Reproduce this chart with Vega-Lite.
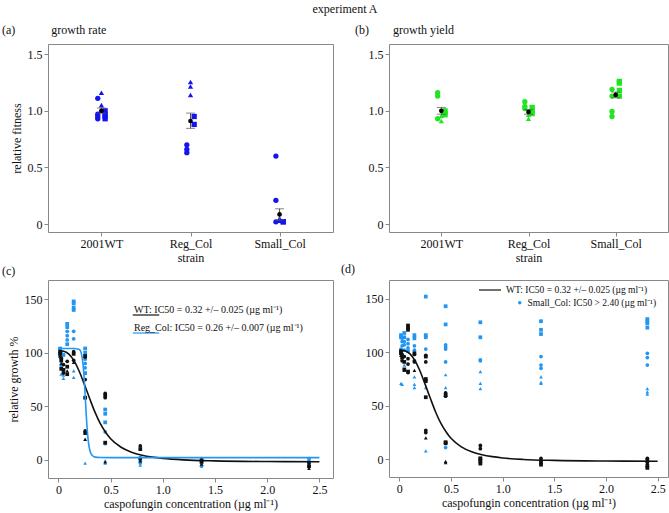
{
  "$schema": "https://vega.github.io/schema/vega-lite/v6.json",
  "padding": {"left": 1, "top": 2, "right": 2, "bottom": 2},
  "title": {"text": "experiment A", "anchor": "middle", "dx": 10, "offset": 8, "fontSize": 12},
  "columns": 2,
  "spacing": {"row": 48, "column": 56},
  "bounds": "flush",
  "align": "each",
  "config": {
    "font": "Liberation Serif",
    "view": {"stroke": "#888"},
    "axis": {"labelFont": "Liberation Serif", "titleFont": "Liberation Serif", "labelFontSize": 12, "titleFontSize": 12, "titleFontWeight": "normal", "grid": false, "domain": false, "tickColor": "#888", "tickSize": 4, "labelColor": "#111", "titleColor": "#111", "labelPadding": 2},
    "title": {"font": "Liberation Serif", "fontWeight": "normal", "fontSize": 12, "color": "#111"},
    "legend": {"labelFont": "Liberation Serif", "labelColor": "#111"}
  },
  "datasets": {
    "rate": [
      {"strain": "2001WT", "rep": "c", "fitness": 1.11},
      {"strain": "2001WT", "rep": "c", "fitness": 0.97},
      {"strain": "2001WT", "rep": "c", "fitness": 0.95},
      {"strain": "2001WT", "rep": "c", "fitness": 0.93},
      {"strain": "2001WT", "rep": "t", "fitness": 1.16},
      {"strain": "2001WT", "rep": "t", "fitness": 1.05},
      {"strain": "2001WT", "rep": "t", "fitness": 1.01},
      {"strain": "2001WT", "rep": "s", "fitness": 1.0},
      {"strain": "2001WT", "rep": "s", "fitness": 0.97},
      {"strain": "2001WT", "rep": "s", "fitness": 0.95},
      {"strain": "2001WT", "rep": "s", "fitness": 0.93},
      {"strain": "Reg_Col", "rep": "c", "fitness": 0.70},
      {"strain": "Reg_Col", "rep": "c", "fitness": 0.66},
      {"strain": "Reg_Col", "rep": "c", "fitness": 0.63},
      {"strain": "Reg_Col", "rep": "t", "fitness": 1.255},
      {"strain": "Reg_Col", "rep": "t", "fitness": 1.215},
      {"strain": "Reg_Col", "rep": "t", "fitness": 1.14},
      {"strain": "Reg_Col", "rep": "s", "fitness": 0.95},
      {"strain": "Reg_Col", "rep": "s", "fitness": 0.88},
      {"strain": "Small_Col", "rep": "c", "fitness": 0.60},
      {"strain": "Small_Col", "rep": "c", "fitness": 0.21},
      {"strain": "Small_Col", "rep": "c", "fitness": 0.02},
      {"strain": "Small_Col", "rep": "t", "fitness": 0.05},
      {"strain": "Small_Col", "rep": "t", "fitness": 0.03},
      {"strain": "Small_Col", "rep": "s", "fitness": 0.02},
      {"strain": "Small_Col", "rep": "s", "fitness": 0.02}
    ],
    "rateMean": [
      {"strain": "2001WT", "fitness": 1.0, "lo": 0.98, "hi": 1.025},
      {"strain": "Reg_Col", "fitness": 0.91, "lo": 0.845, "hi": 0.98},
      {"strain": "Small_Col", "fitness": 0.085, "lo": 0.035, "hi": 0.135}
    ],
    "yield": [
      {"strain": "2001WT", "rep": "c", "fitness": 1.16},
      {"strain": "2001WT", "rep": "c", "fitness": 1.13},
      {"strain": "2001WT", "rep": "c", "fitness": 0.93},
      {"strain": "2001WT", "rep": "t", "fitness": 0.955},
      {"strain": "2001WT", "rep": "t", "fitness": 0.91},
      {"strain": "2001WT", "rep": "s", "fitness": 1.0},
      {"strain": "2001WT", "rep": "s", "fitness": 0.98},
      {"strain": "2001WT", "rep": "s", "fitness": 0.965},
      {"strain": "Reg_Col", "rep": "c", "fitness": 1.08},
      {"strain": "Reg_Col", "rep": "c", "fitness": 1.04},
      {"strain": "Reg_Col", "rep": "c", "fitness": 1.02},
      {"strain": "Reg_Col", "rep": "t", "fitness": 0.965},
      {"strain": "Reg_Col", "rep": "t", "fitness": 0.93},
      {"strain": "Reg_Col", "rep": "s", "fitness": 1.03},
      {"strain": "Reg_Col", "rep": "s", "fitness": 1.0},
      {"strain": "Reg_Col", "rep": "s", "fitness": 0.975},
      {"strain": "Small_Col", "rep": "c", "fitness": 1.19},
      {"strain": "Small_Col", "rep": "c", "fitness": 1.13},
      {"strain": "Small_Col", "rep": "c", "fitness": 0.995},
      {"strain": "Small_Col", "rep": "c", "fitness": 0.95},
      {"strain": "Small_Col", "rep": "t", "fitness": 1.15},
      {"strain": "Small_Col", "rep": "s", "fitness": 1.26},
      {"strain": "Small_Col", "rep": "s", "fitness": 1.245},
      {"strain": "Small_Col", "rep": "s", "fitness": 1.18},
      {"strain": "Small_Col", "rep": "s", "fitness": 1.13}
    ],
    "yieldMean": [
      {"strain": "2001WT", "fitness": 1.0, "lo": 0.97, "hi": 1.03},
      {"strain": "Reg_Col", "fitness": 0.99, "lo": 0.97, "hi": 1.01},
      {"strain": "Small_Col", "fitness": 1.14, "lo": 1.115, "hi": 1.165}
    ],
    "drc": [
      {"strain": "Reg_Col", "rep": "c", "conc": 0.016, "growth": 103},
      {"strain": "Reg_Col", "rep": "s", "conc": 0.016, "growth": 104},
      {"strain": "Reg_Col", "rep": "t", "conc": 0.016, "growth": 101},
      {"strain": "Reg_Col", "rep": "c", "conc": 0.016, "growth": 99},
      {"strain": "Reg_Col", "rep": "s", "conc": 0.016, "growth": 97},
      {"strain": "Reg_Col", "rep": "c", "conc": 0.027, "growth": 100},
      {"strain": "Reg_Col", "rep": "s", "conc": 0.027, "growth": 96},
      {"strain": "Reg_Col", "rep": "t", "conc": 0.027, "growth": 92},
      {"strain": "Reg_Col", "rep": "c", "conc": 0.027, "growth": 88},
      {"strain": "Reg_Col", "rep": "t", "conc": 0.027, "growth": 80},
      {"strain": "Reg_Col", "rep": "c", "conc": 0.048, "growth": 84},
      {"strain": "Reg_Col", "rep": "t", "conc": 0.048, "growth": 79},
      {"strain": "Reg_Col", "rep": "t", "conc": 0.048, "growth": 76},
      {"strain": "Reg_Col", "rep": "s", "conc": 0.048, "growth": 98},
      {"strain": "Reg_Col", "rep": "s", "conc": 0.084, "growth": 127},
      {"strain": "Reg_Col", "rep": "s", "conc": 0.084, "growth": 124},
      {"strain": "Reg_Col", "rep": "c", "conc": 0.084, "growth": 120},
      {"strain": "Reg_Col", "rep": "c", "conc": 0.084, "growth": 116},
      {"strain": "Reg_Col", "rep": "c", "conc": 0.084, "growth": 112},
      {"strain": "Reg_Col", "rep": "s", "conc": 0.084, "growth": 108},
      {"strain": "Reg_Col", "rep": "s", "conc": 0.146, "growth": 148},
      {"strain": "Reg_Col", "rep": "s", "conc": 0.146, "growth": 146},
      {"strain": "Reg_Col", "rep": "s", "conc": 0.146, "growth": 142},
      {"strain": "Reg_Col", "rep": "s", "conc": 0.146, "growth": 140},
      {"strain": "Reg_Col", "rep": "c", "conc": 0.146, "growth": 120},
      {"strain": "Reg_Col", "rep": "c", "conc": 0.146, "growth": 113},
      {"strain": "Reg_Col", "rep": "t", "conc": 0.146, "growth": 83},
      {"strain": "Reg_Col", "rep": "t", "conc": 0.146, "growth": 77},
      {"strain": "Reg_Col", "rep": "s", "conc": 0.256, "growth": 104},
      {"strain": "Reg_Col", "rep": "s", "conc": 0.256, "growth": 100},
      {"strain": "Reg_Col", "rep": "c", "conc": 0.256, "growth": 94},
      {"strain": "Reg_Col", "rep": "c", "conc": 0.256, "growth": 90},
      {"strain": "Reg_Col", "rep": "c", "conc": 0.256, "growth": 86},
      {"strain": "Reg_Col", "rep": "s", "conc": 0.256, "growth": 81},
      {"strain": "Reg_Col", "rep": "t", "conc": 0.256, "growth": 19},
      {"strain": "Reg_Col", "rep": "t", "conc": 0.256, "growth": -3},
      {"strain": "Reg_Col", "rep": "s", "conc": 0.448, "growth": 47},
      {"strain": "Reg_Col", "rep": "s", "conc": 0.448, "growth": 43},
      {"strain": "Reg_Col", "rep": "s", "conc": 0.448, "growth": 35},
      {"strain": "Reg_Col", "rep": "c", "conc": 0.448, "growth": 26},
      {"strain": "Reg_Col", "rep": "c", "conc": 0.448, "growth": 15},
      {"strain": "Reg_Col", "rep": "t", "conc": 0.448, "growth": -1},
      {"strain": "Reg_Col", "rep": "t", "conc": 0.448, "growth": -3},
      {"strain": "Reg_Col", "rep": "c", "conc": 0.784, "growth": 2},
      {"strain": "Reg_Col", "rep": "s", "conc": 0.784, "growth": 0},
      {"strain": "Reg_Col", "rep": "c", "conc": 0.784, "growth": -3},
      {"strain": "Reg_Col", "rep": "t", "conc": 0.784, "growth": -5},
      {"strain": "Reg_Col", "rep": "c", "conc": 1.371, "growth": 1},
      {"strain": "Reg_Col", "rep": "s", "conc": 1.371, "growth": -1},
      {"strain": "Reg_Col", "rep": "t", "conc": 1.371, "growth": -4},
      {"strain": "Reg_Col", "rep": "c", "conc": 1.371, "growth": -6},
      {"strain": "Reg_Col", "rep": "c", "conc": 2.4, "growth": 1},
      {"strain": "Reg_Col", "rep": "s", "conc": 2.4, "growth": -2},
      {"strain": "Reg_Col", "rep": "t", "conc": 2.4, "growth": -4},
      {"strain": "Reg_Col", "rep": "c", "conc": 2.4, "growth": -6},
      {"strain": "WT", "rep": "c", "conc": 0.016, "growth": 101},
      {"strain": "WT", "rep": "s", "conc": 0.016, "growth": 99},
      {"strain": "WT", "rep": "t", "conc": 0.016, "growth": 97},
      {"strain": "WT", "rep": "c", "conc": 0.027, "growth": 95},
      {"strain": "WT", "rep": "s", "conc": 0.027, "growth": 93},
      {"strain": "WT", "rep": "t", "conc": 0.027, "growth": 90},
      {"strain": "WT", "rep": "s", "conc": 0.027, "growth": 85},
      {"strain": "WT", "rep": "c", "conc": 0.048, "growth": 89},
      {"strain": "WT", "rep": "s", "conc": 0.048, "growth": 84},
      {"strain": "WT", "rep": "t", "conc": 0.048, "growth": 82},
      {"strain": "WT", "rep": "c", "conc": 0.048, "growth": 81},
      {"strain": "WT", "rep": "c", "conc": 0.084, "growth": 92},
      {"strain": "WT", "rep": "s", "conc": 0.084, "growth": 87},
      {"strain": "WT", "rep": "t", "conc": 0.084, "growth": 83},
      {"strain": "WT", "rep": "s", "conc": 0.084, "growth": 80},
      {"strain": "WT", "rep": "c", "conc": 0.146, "growth": 101},
      {"strain": "WT", "rep": "s", "conc": 0.146, "growth": 99},
      {"strain": "WT", "rep": "c", "conc": 0.146, "growth": 93},
      {"strain": "WT", "rep": "t", "conc": 0.146, "growth": 91},
      {"strain": "WT", "rep": "s", "conc": 0.256, "growth": 97},
      {"strain": "WT", "rep": "c", "conc": 0.256, "growth": 96},
      {"strain": "WT", "rep": "c", "conc": 0.256, "growth": 75},
      {"strain": "WT", "rep": "s", "conc": 0.256, "growth": 58},
      {"strain": "WT", "rep": "c", "conc": 0.256, "growth": 27},
      {"strain": "WT", "rep": "s", "conc": 0.256, "growth": 25},
      {"strain": "WT", "rep": "t", "conc": 0.256, "growth": 19},
      {"strain": "WT", "rep": "c", "conc": 0.448, "growth": 62},
      {"strain": "WT", "rep": "s", "conc": 0.448, "growth": 60},
      {"strain": "WT", "rep": "c", "conc": 0.448, "growth": 58},
      {"strain": "WT", "rep": "s", "conc": 0.448, "growth": 16},
      {"strain": "WT", "rep": "t", "conc": 0.448, "growth": -2},
      {"strain": "WT", "rep": "c", "conc": 0.784, "growth": 13},
      {"strain": "WT", "rep": "s", "conc": 0.784, "growth": 10},
      {"strain": "WT", "rep": "c", "conc": 0.784, "growth": 1},
      {"strain": "WT", "rep": "t", "conc": 0.784, "growth": -1},
      {"strain": "WT", "rep": "c", "conc": 1.371, "growth": 0},
      {"strain": "WT", "rep": "s", "conc": 1.371, "growth": -2},
      {"strain": "WT", "rep": "t", "conc": 1.371, "growth": -4},
      {"strain": "WT", "rep": "c", "conc": 2.4, "growth": -3},
      {"strain": "WT", "rep": "s", "conc": 2.4, "growth": -6},
      {"strain": "WT", "rep": "t", "conc": 2.4, "growth": -8}
    ],
    "drd": [
      {"strain": "Small_Col", "rep": "s", "conc": 0.016, "growth": 116},
      {"strain": "Small_Col", "rep": "s", "conc": 0.016, "growth": 114},
      {"strain": "Small_Col", "rep": "c", "conc": 0.016, "growth": 103},
      {"strain": "Small_Col", "rep": "c", "conc": 0.016, "growth": 101},
      {"strain": "Small_Col", "rep": "c", "conc": 0.016, "growth": 99},
      {"strain": "Small_Col", "rep": "t", "conc": 0.016, "growth": 71},
      {"strain": "Small_Col", "rep": "c", "conc": 0.027, "growth": 113},
      {"strain": "Small_Col", "rep": "c", "conc": 0.027, "growth": 110},
      {"strain": "Small_Col", "rep": "c", "conc": 0.027, "growth": 106},
      {"strain": "Small_Col", "rep": "t", "conc": 0.027, "growth": 70},
      {"strain": "Small_Col", "rep": "s", "conc": 0.048, "growth": 118},
      {"strain": "Small_Col", "rep": "s", "conc": 0.048, "growth": 114},
      {"strain": "Small_Col", "rep": "c", "conc": 0.048, "growth": 110},
      {"strain": "Small_Col", "rep": "c", "conc": 0.048, "growth": 107},
      {"strain": "Small_Col", "rep": "c", "conc": 0.048, "growth": 102},
      {"strain": "Small_Col", "rep": "t", "conc": 0.048, "growth": 88},
      {"strain": "Small_Col", "rep": "c", "conc": 0.084, "growth": 112},
      {"strain": "Small_Col", "rep": "c", "conc": 0.084, "growth": 108},
      {"strain": "Small_Col", "rep": "c", "conc": 0.084, "growth": 104},
      {"strain": "Small_Col", "rep": "s", "conc": 0.084, "growth": 101},
      {"strain": "Small_Col", "rep": "s", "conc": 0.146, "growth": 116},
      {"strain": "Small_Col", "rep": "s", "conc": 0.146, "growth": 113},
      {"strain": "Small_Col", "rep": "c", "conc": 0.146, "growth": 106},
      {"strain": "Small_Col", "rep": "c", "conc": 0.146, "growth": 102},
      {"strain": "Small_Col", "rep": "t", "conc": 0.146, "growth": 77},
      {"strain": "Small_Col", "rep": "t", "conc": 0.146, "growth": 70},
      {"strain": "Small_Col", "rep": "t", "conc": 0.146, "growth": 67},
      {"strain": "Small_Col", "rep": "s", "conc": 0.256, "growth": 152},
      {"strain": "Small_Col", "rep": "s", "conc": 0.256, "growth": 116},
      {"strain": "Small_Col", "rep": "s", "conc": 0.256, "growth": 114},
      {"strain": "Small_Col", "rep": "c", "conc": 0.256, "growth": 103},
      {"strain": "Small_Col", "rep": "t", "conc": 0.256, "growth": 75},
      {"strain": "Small_Col", "rep": "t", "conc": 0.256, "growth": 67},
      {"strain": "Small_Col", "rep": "t", "conc": 0.256, "growth": 8},
      {"strain": "Small_Col", "rep": "s", "conc": 0.448, "growth": 143},
      {"strain": "Small_Col", "rep": "s", "conc": 0.448, "growth": 126},
      {"strain": "Small_Col", "rep": "c", "conc": 0.448, "growth": 107},
      {"strain": "Small_Col", "rep": "c", "conc": 0.448, "growth": 105},
      {"strain": "Small_Col", "rep": "c", "conc": 0.448, "growth": 103},
      {"strain": "Small_Col", "rep": "c", "conc": 0.448, "growth": 91},
      {"strain": "Small_Col", "rep": "t", "conc": 0.448, "growth": 79},
      {"strain": "Small_Col", "rep": "t", "conc": 0.448, "growth": 67},
      {"strain": "Small_Col", "rep": "c", "conc": 0.448, "growth": 15},
      {"strain": "Small_Col", "rep": "c", "conc": 0.448, "growth": 11},
      {"strain": "Small_Col", "rep": "s", "conc": 0.784, "growth": 128},
      {"strain": "Small_Col", "rep": "s", "conc": 0.784, "growth": 114},
      {"strain": "Small_Col", "rep": "c", "conc": 0.784, "growth": 93},
      {"strain": "Small_Col", "rep": "c", "conc": 0.784, "growth": 92},
      {"strain": "Small_Col", "rep": "t", "conc": 0.784, "growth": 82},
      {"strain": "Small_Col", "rep": "t", "conc": 0.784, "growth": 71},
      {"strain": "Small_Col", "rep": "t", "conc": 0.784, "growth": 66},
      {"strain": "Small_Col", "rep": "s", "conc": 1.371, "growth": 129},
      {"strain": "Small_Col", "rep": "s", "conc": 1.371, "growth": 121},
      {"strain": "Small_Col", "rep": "s", "conc": 1.371, "growth": 117},
      {"strain": "Small_Col", "rep": "c", "conc": 1.371, "growth": 96},
      {"strain": "Small_Col", "rep": "c", "conc": 1.371, "growth": 88},
      {"strain": "Small_Col", "rep": "c", "conc": 1.371, "growth": 85},
      {"strain": "Small_Col", "rep": "t", "conc": 1.371, "growth": 77},
      {"strain": "Small_Col", "rep": "t", "conc": 1.371, "growth": 72},
      {"strain": "Small_Col", "rep": "t", "conc": 1.371, "growth": 71},
      {"strain": "Small_Col", "rep": "s", "conc": 2.4, "growth": 131},
      {"strain": "Small_Col", "rep": "s", "conc": 2.4, "growth": 129},
      {"strain": "Small_Col", "rep": "s", "conc": 2.4, "growth": 127},
      {"strain": "Small_Col", "rep": "s", "conc": 2.4, "growth": 123},
      {"strain": "Small_Col", "rep": "c", "conc": 2.4, "growth": 99},
      {"strain": "Small_Col", "rep": "c", "conc": 2.4, "growth": 95},
      {"strain": "Small_Col", "rep": "c", "conc": 2.4, "growth": 88},
      {"strain": "Small_Col", "rep": "t", "conc": 2.4, "growth": 66},
      {"strain": "Small_Col", "rep": "t", "conc": 2.4, "growth": 63},
      {"strain": "Small_Col", "rep": "t", "conc": 2.4, "growth": 61},
      {"strain": "WT", "rep": "c", "conc": 0.016, "growth": 101},
      {"strain": "WT", "rep": "s", "conc": 0.016, "growth": 99},
      {"strain": "WT", "rep": "t", "conc": 0.016, "growth": 97},
      {"strain": "WT", "rep": "c", "conc": 0.027, "growth": 98},
      {"strain": "WT", "rep": "s", "conc": 0.027, "growth": 95},
      {"strain": "WT", "rep": "c", "conc": 0.027, "growth": 92},
      {"strain": "WT", "rep": "c", "conc": 0.048, "growth": 96},
      {"strain": "WT", "rep": "s", "conc": 0.048, "growth": 91},
      {"strain": "WT", "rep": "s", "conc": 0.048, "growth": 84},
      {"strain": "WT", "rep": "t", "conc": 0.048, "growth": 83},
      {"strain": "WT", "rep": "s", "conc": 0.084, "growth": 125},
      {"strain": "WT", "rep": "s", "conc": 0.084, "growth": 123},
      {"strain": "WT", "rep": "s", "conc": 0.084, "growth": 121},
      {"strain": "WT", "rep": "c", "conc": 0.084, "growth": 94},
      {"strain": "WT", "rep": "c", "conc": 0.084, "growth": 89},
      {"strain": "WT", "rep": "s", "conc": 0.084, "growth": 82},
      {"strain": "WT", "rep": "c", "conc": 0.084, "growth": 81},
      {"strain": "WT", "rep": "s", "conc": 0.146, "growth": 99},
      {"strain": "WT", "rep": "c", "conc": 0.146, "growth": 98},
      {"strain": "WT", "rep": "c", "conc": 0.146, "growth": 92},
      {"strain": "WT", "rep": "c", "conc": 0.146, "growth": 91},
      {"strain": "WT", "rep": "t", "conc": 0.146, "growth": 83},
      {"strain": "WT", "rep": "c", "conc": 0.256, "growth": 97},
      {"strain": "WT", "rep": "s", "conc": 0.256, "growth": 96},
      {"strain": "WT", "rep": "c", "conc": 0.256, "growth": 91},
      {"strain": "WT", "rep": "s", "conc": 0.256, "growth": 75},
      {"strain": "WT", "rep": "s", "conc": 0.256, "growth": 73},
      {"strain": "WT", "rep": "s", "conc": 0.256, "growth": 58},
      {"strain": "WT", "rep": "c", "conc": 0.256, "growth": 27},
      {"strain": "WT", "rep": "c", "conc": 0.256, "growth": 25},
      {"strain": "WT", "rep": "t", "conc": 0.256, "growth": 20},
      {"strain": "WT", "rep": "c", "conc": 0.448, "growth": 62},
      {"strain": "WT", "rep": "s", "conc": 0.448, "growth": 60},
      {"strain": "WT", "rep": "c", "conc": 0.448, "growth": 59},
      {"strain": "WT", "rep": "s", "conc": 0.448, "growth": 16},
      {"strain": "WT", "rep": "s", "conc": 0.448, "growth": 15},
      {"strain": "WT", "rep": "t", "conc": 0.448, "growth": -2},
      {"strain": "WT", "rep": "t", "conc": 0.448, "growth": -3},
      {"strain": "WT", "rep": "c", "conc": 0.784, "growth": 13},
      {"strain": "WT", "rep": "c", "conc": 0.784, "growth": 10},
      {"strain": "WT", "rep": "s", "conc": 0.784, "growth": 1},
      {"strain": "WT", "rep": "s", "conc": 0.784, "growth": 0},
      {"strain": "WT", "rep": "s", "conc": 0.784, "growth": -2},
      {"strain": "WT", "rep": "s", "conc": 0.784, "growth": -4},
      {"strain": "WT", "rep": "c", "conc": 1.371, "growth": 1},
      {"strain": "WT", "rep": "c", "conc": 1.371, "growth": -1},
      {"strain": "WT", "rep": "s", "conc": 1.371, "growth": -3},
      {"strain": "WT", "rep": "s", "conc": 1.371, "growth": -5},
      {"strain": "WT", "rep": "c", "conc": 2.4, "growth": 1},
      {"strain": "WT", "rep": "s", "conc": 2.4, "growth": -1},
      {"strain": "WT", "rep": "c", "conc": 2.4, "growth": -3},
      {"strain": "WT", "rep": "s", "conc": 2.4, "growth": -6},
      {"strain": "WT", "rep": "s", "conc": 2.4, "growth": -8}
    ],
    "curves": [
      {"curve": "WT", "conc": 0, "growth": 102},
      {"curve": "WT", "conc": 0.05, "growth": 101.5},
      {"curve": "WT", "conc": 0.1, "growth": 98.8},
      {"curve": "WT", "conc": 0.15, "growth": 92.5},
      {"curve": "WT", "conc": 0.2, "growth": 82.5},
      {"curve": "WT", "conc": 0.25, "growth": 70},
      {"curve": "WT", "conc": 0.3, "growth": 57},
      {"curve": "WT", "conc": 0.35, "growth": 44.5},
      {"curve": "WT", "conc": 0.4, "growth": 34},
      {"curve": "WT", "conc": 0.45, "growth": 26},
      {"curve": "WT", "conc": 0.5, "growth": 19.6},
      {"curve": "WT", "conc": 0.6, "growth": 11.7},
      {"curve": "WT", "conc": 0.7, "growth": 7.1},
      {"curve": "WT", "conc": 0.8, "growth": 4.3},
      {"curve": "WT", "conc": 0.9, "growth": 2.5},
      {"curve": "WT", "conc": 1.0, "growth": 1.3},
      {"curve": "WT", "conc": 1.2, "growth": -0.1},
      {"curve": "WT", "conc": 1.5, "growth": -1.0},
      {"curve": "WT", "conc": 2.0, "growth": -1.6},
      {"curve": "WT", "conc": 2.5, "growth": -1.8},
      {"curve": "Reg_Col", "conc": 0, "growth": 104},
      {"curve": "Reg_Col", "conc": 0.1, "growth": 104},
      {"curve": "Reg_Col", "conc": 0.15, "growth": 104},
      {"curve": "Reg_Col", "conc": 0.2, "growth": 103.1},
      {"curve": "Reg_Col", "conc": 0.22, "growth": 99.2},
      {"curve": "Reg_Col", "conc": 0.24, "growth": 84.5},
      {"curve": "Reg_Col", "conc": 0.25, "growth": 70.3},
      {"curve": "Reg_Col", "conc": 0.26, "growth": 53},
      {"curve": "Reg_Col", "conc": 0.27, "growth": 36.3},
      {"curve": "Reg_Col", "conc": 0.28, "growth": 23.3},
      {"curve": "Reg_Col", "conc": 0.29, "growth": 14.5},
      {"curve": "Reg_Col", "conc": 0.3, "growth": 9.2},
      {"curve": "Reg_Col", "conc": 0.32, "growth": 4.4},
      {"curve": "Reg_Col", "conc": 0.35, "growth": 2.5},
      {"curve": "Reg_Col", "conc": 0.4, "growth": 2.1},
      {"curve": "Reg_Col", "conc": 0.5, "growth": 2},
      {"curve": "Reg_Col", "conc": 1.0, "growth": 2},
      {"curve": "Reg_Col", "conc": 2.5, "growth": 2}
    ]
  },
  "concat": [
    {
      "width": 285, "height": 188,
      "title": {"text": "(a)\u00a0\u00a0\u00a0\u00a0\u00a0\u00a0\u00a0\u00a0\u00a0\u00a0\u00a0\u00a0growth rate", "anchor": "start", "frame": "group", "dx": -46, "offset": 7},
      "layer": [
        {"mark": {"type": "rule", "color": "#888", "strokeDash": [2, 2]}, "encoding": {"y": {"datum": 1, "type": "quantitative", "title": "relative fitness", "scale": {"domain": [-0.07, 1.59], "nice": false, "zero": false}}}},
        {"data": {"name": "rate"}, "mark": {"type": "point", "filled": true, "size": 28, "opacity": 1, "color": "#1414f0"},
         "encoding": {
           "x": {"field": "strain", "type": "nominal", "sort": null, "scale": {"type": "point", "padding": 0.6}, "axis": {"title": "strain", "labelAngle": 0, "titlePadding": 3}},
           "xOffset": {"field": "rep", "type": "nominal", "scale": {"type": "point", "domain": ["c", "t", "s"], "range": [-5.5, 5.5]}},
           "y": {"field": "fitness", "type": "quantitative", "title": "relative fitness", "scale": {"domain": [-0.07, 1.59], "nice": false, "zero": false}, "axis": {"title": "relative fitness", "values": [0, 0.5, 1, 1.5], "labelExpr": "datum.value === 0 ? '0' : format(datum.value, '.1f')"}},
           "shape": {"field": "rep", "type": "nominal", "scale": {"domain": ["c", "t", "s"], "range": ["circle", "triangle-up", "square"]}, "legend": null}
         }},
        {"data": {"name": "rateMean"}, "mark": {"type": "errorbar", "ticks": true, "color": "#555", "size": 9, "thickness": 1},
         "encoding": {
           "x": {"field": "strain", "type": "nominal", "sort": null},
           "y": {"field": "lo", "type": "quantitative", "title": "relative fitness", "scale": {"domain": [-0.07, 1.59], "nice": false, "zero": false}},
           "y2": {"field": "hi"}
         }},
        {"data": {"name": "rateMean"}, "mark": {"type": "point", "filled": true, "size": 22, "opacity": 1, "color": "#000"},
         "encoding": {
           "x": {"field": "strain", "type": "nominal", "sort": null},
           "y": {"field": "fitness", "type": "quantitative", "title": "relative fitness", "scale": {"domain": [-0.07, 1.59], "nice": false, "zero": false}}
         }}
      ]
    },
    {
      "width": 279, "height": 188,
      "title": {"text": "(b)\u00a0\u00a0\u00a0\u00a0\u00a0\u00a0\u00a0\u00a0growth yield", "anchor": "start", "frame": "group", "dx": -34, "offset": 7},
      "layer": [
        {"mark": {"type": "rule", "color": "#888", "strokeDash": [2, 2]}, "encoding": {"y": {"datum": 1, "type": "quantitative", "title": null, "scale": {"domain": [-0.07, 1.59], "nice": false, "zero": false}}}},
        {"data": {"name": "yield"}, "mark": {"type": "point", "filled": true, "size": 28, "opacity": 1, "color": "#1fe61f"},
         "encoding": {
           "x": {"field": "strain", "type": "nominal", "sort": null, "scale": {"type": "point", "padding": 0.6}, "axis": {"title": "strain", "labelAngle": 0, "titlePadding": 3}},
           "xOffset": {"field": "rep", "type": "nominal", "scale": {"type": "point", "domain": ["c", "t", "s"], "range": [-5.5, 5.5]}},
           "y": {"field": "fitness", "type": "quantitative", "title": null, "scale": {"domain": [-0.07, 1.59], "nice": false, "zero": false}, "axis": {"title": null, "values": [0, 0.5, 1, 1.5], "labelExpr": "datum.value === 0 ? '0' : format(datum.value, '.1f')"}},
           "shape": {"field": "rep", "type": "nominal", "scale": {"domain": ["c", "t", "s"], "range": ["circle", "triangle-up", "square"]}, "legend": null}
         }},
        {"data": {"name": "yieldMean"}, "mark": {"type": "errorbar", "ticks": true, "color": "#555", "size": 9, "thickness": 1},
         "encoding": {
           "x": {"field": "strain", "type": "nominal", "sort": null},
           "y": {"field": "lo", "type": "quantitative", "title": null, "scale": {"domain": [-0.07, 1.59], "nice": false, "zero": false}},
           "y2": {"field": "hi"}
         }},
        {"data": {"name": "yieldMean"}, "mark": {"type": "point", "filled": true, "size": 22, "opacity": 1, "color": "#000"},
         "encoding": {
           "x": {"field": "strain", "type": "nominal", "sort": null},
           "y": {"field": "fitness", "type": "quantitative", "title": null, "scale": {"domain": [-0.07, 1.59], "nice": false, "zero": false}}
         }}
      ]
    },
    {
      "width": 285, "height": 198,
      "title": {"text": "(c)", "anchor": "start", "frame": "group", "dx": -46, "offset": 2},
      "layer": [
        {"data": {"name": "drc"}, "mark": {"type": "point", "filled": true, "size": 14, "opacity": 1},
         "encoding": {
           "x": {"field": "conc", "type": "quantitative", "title": "caspofungin concentration (µg ml⁻¹)", "scale": {"domain": [-0.1, 2.63], "nice": false, "zero": false}, "axis": {"values": [0, 0.5, 1, 1.5, 2, 2.5], "labelExpr": "datum.value === 0 ? '0' : format(datum.value, '.1f')", "titlePadding": 3}},
           "y": {"field": "growth", "type": "quantitative", "title": "relative growth %", "scale": {"domain": [-17, 168], "nice": false, "zero": false}, "axis": {"values": [0, 50, 100, 150]}},
           "shape": {"field": "rep", "type": "nominal", "scale": {"domain": ["c", "t", "s"], "range": ["circle", "triangle-up", "square"]}, "legend": null},
           "color": {"field": "strain", "type": "nominal", "scale": {"domain": ["WT", "Reg_Col"], "range": ["#111111", "#2196f3"]}, "legend": null}
         }},
        {"data": {"name": "curves"}, "mark": {"type": "line", "strokeWidth": 1.6, "interpolate": "monotone"},
         "encoding": {
           "x": {"field": "conc", "type": "quantitative", "title": "caspofungin concentration (µg ml⁻¹)", "scale": {"domain": [-0.1, 2.63], "nice": false, "zero": false}},
           "y": {"field": "growth", "type": "quantitative", "title": "relative growth %", "scale": {"domain": [-17, 168], "nice": false, "zero": false}},
           "color": {"field": "curve", "type": "nominal", "scale": {"domain": ["WT", "Reg_Col"], "range": ["#111111", "#2196f3"]},
             "legend": {"title": null, "orient": "none", "legendX": 84, "legendY": 21, "symbolType": "stroke", "symbolSize": 700, "symbolStrokeWidth": 1.2, "labelFontSize": 10, "labelOffset": -26, "labelBaseline": "bottom", "rowPadding": 1, "labelLimit": 0,
               "labelExpr": "datum.value == 'WT' ? 'WT: IC50 = 0.32 +/– 0.025 (µg ml⁻¹)' : 'Reg_Col: IC50 = 0.26 +/– 0.007 (µg ml⁻¹)'"}}
         }}
      ],
      "resolve": {"scale": {"color": "independent"}, "legend": {"color": "independent"}}
    },
    {
      "width": 279, "height": 197,
      "title": {"text": "(d)", "anchor": "start", "frame": "group", "dx": -48, "offset": 2},
      "layer": [
        {"data": {"name": "drd"}, "mark": {"type": "point", "filled": true, "size": 14, "opacity": 1},
         "encoding": {
           "x": {"field": "conc", "type": "quantitative", "title": "caspofungin concentration (µg ml⁻¹)", "scale": {"domain": [-0.1, 2.6], "nice": false, "zero": false}, "axis": {"values": [0, 0.5, 1, 1.5, 2, 2.5], "labelExpr": "datum.value === 0 ? '0' : format(datum.value, '.1f')", "titlePadding": 3}},
           "y": {"field": "growth", "type": "quantitative", "title": null, "scale": {"domain": [-16.5, 167.5], "nice": false, "zero": false}, "axis": {"values": [0, 50, 100, 150]}},
           "shape": {"field": "rep", "type": "nominal", "scale": {"domain": ["c", "t", "s"], "range": ["circle", "triangle-up", "square"]}, "legend": null},
           "color": {"field": "strain", "type": "nominal", "scale": {"domain": ["WT", "Small_Col"], "range": ["#111111", "#2196f3"]},
             "legend": {"title": null, "values": ["Small_Col"], "orient": "none", "legendX": 126, "legendY": 18, "symbolType": "circle", "symbolSize": 12, "labelFontSize": 9.5, "labelOffset": 3, "labelLimit": 0,
               "labelExpr": "'Small_Col: IC50 > 2.40 (µg ml⁻¹)'"}}
         }},
        {"data": {"name": "curves"}, "transform": [{"filter": "datum.curve == 'WT'"}], "mark": {"type": "line", "strokeWidth": 1.6, "interpolate": "monotone"},
         "encoding": {
           "x": {"field": "conc", "type": "quantitative", "title": "caspofungin concentration (µg ml⁻¹)", "scale": {"domain": [-0.1, 2.6], "nice": false, "zero": false}},
           "y": {"field": "growth", "type": "quantitative", "title": null, "scale": {"domain": [-16.5, 167.5], "nice": false, "zero": false}},
           "color": {"field": "curve", "type": "nominal", "scale": {"domain": ["WT"], "range": ["#111111"]},
             "legend": {"title": null, "orient": "none", "legendX": 89, "legendY": -2, "symbolType": "stroke", "symbolSize": 484, "symbolStrokeColor": "#777", "symbolStrokeWidth": 1.2, "labelFontSize": 9.5, "labelOffset": 4, "labelLimit": 0,
               "labelExpr": "'WT: IC50 = 0.32 +/– 0.025 (µg ml⁻¹)'"}}
         }}
      ],
      "resolve": {"scale": {"color": "independent"}, "legend": {"color": "independent"}}
    }
  ]
}
